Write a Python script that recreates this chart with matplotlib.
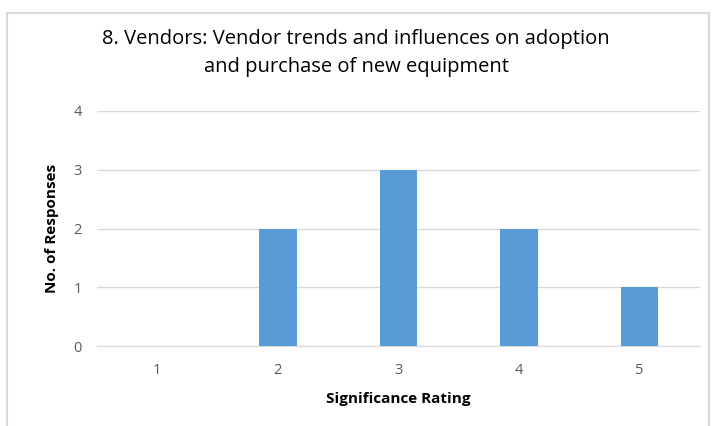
import matplotlib.pyplot as plt
from matplotlib.patches import Rectangle

# Daten aus dem Diagramm
ratings = ['1', '2', '3', '4', '5']
responses = [0, 2, 3, 2, 1]
y_ticks = [0, 1, 2, 3, 4]

title = '8. Vendors: Vendor trends and influences on adoption\nand purchase of new equipment'

plt.rcParams['font.family'] = ['Open Sans', 'DejaVu Sans']

fig = plt.figure(figsize=(7.12, 4.26), dpi=100)
ax = fig.add_axes([97 / 712, 1 - 346 / 426, 603 / 712, 235 / 426])

# Rahmen um das Diagramm
fig.patches.append(Rectangle((7 / 712, -0.1), 702 / 712, 1 - 13 / 426 + 0.1,
                             transform=fig.transFigure, fill=False,
                             edgecolor='#d9d9d9', linewidth=1.5))

x = range(len(ratings))
ax.bar(x, responses, width=0.31, color='#5b9bd5', zorder=3)

ax.set_xlim(-0.5, len(ratings) - 0.5)
ax.set_ylim(0, 4)
ax.set_xticks(list(x))
ax.set_xticklabels(ratings)
ax.set_yticks(y_ticks)
ax.grid(axis='y', color='#d9d9d9', linewidth=1, zorder=0)
ax.tick_params(length=0, labelsize=10.5, labelcolor='#595959', pad=12)
ax.tick_params(axis='y', pad=11)
for s in ax.spines.values():
    s.set_visible(False)
ax.spines['bottom'].set_visible(True)
ax.spines['bottom'].set_color('#d9d9d9')

ax.set_xlabel('Significance Rating', fontsize=11, fontweight='bold', labelpad=10)
ax.set_ylabel('No. of Responses', fontsize=11, fontweight='bold', labelpad=10)

fig.text(0.5, 1 - 53 / 426, title, ha='center', va='center', fontsize=14.5,
         linespacing=1.55, color='#000000')

fig.savefig('out.png', dpi=100)
